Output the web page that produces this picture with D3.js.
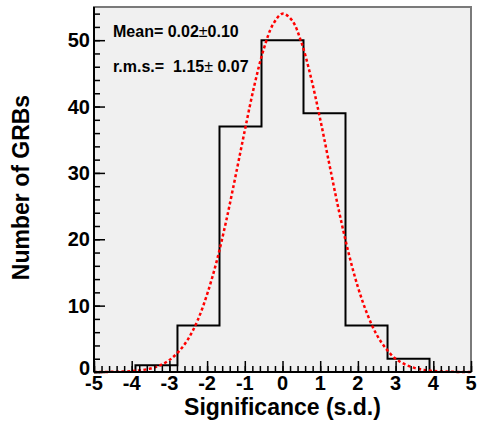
<!DOCTYPE html>
<html>
<head>
<meta charset="utf-8">
<script src="https://cdn.jsdelivr.net/npm/d3@7"></script>
<style>
  body { margin: 0; background: #fff; }
  text { font-family: "Liberation Sans", Arial, sans-serif; font-weight: bold; }
</style>
</head>
<body>
<div id="chart"></div>
<script>
// histogram of GRB significances
const binEdges = [-3.9, -2.786, -1.671, -0.557, 0.557, 1.671, 2.786, 3.9];
const counts = [1, 7, 37, 50, 39, 7, 2];

// gaussian fit curve
const fitX = [-5, -4.5, -4, -3.75, -3.5, -3.25, -3, -2.75, -2.5, -2.25, -2, -1.75, -1.5, -1.25, -1, -0.75, -0.5, -0.25,
              0, 0.25, 0.5, 0.75, 1, 1.25, 1.5, 1.75, 2, 2.25, 2.5, 2.75, 3, 3.25, 3.5, 3.75, 4, 4.5, 5];
const fitY = [0, 0.03, 0.13, 0.27, 0.53, 1.0, 1.8, 3.1, 5.0, 7.8, 11.7, 16.6, 22.6, 29.4, 36.4, 43.1, 48.6, 52.4,
              54.0, 53.0, 49.7, 44.5, 38.1, 31.1, 24.2, 18.0, 12.8, 8.7, 5.6, 3.5, 2.0, 1.15, 0.62, 0.32, 0.15, 0.03, 0];

const xTicks = [-5, -4, -3, -2, -1, 0, 1, 2, 3, 4, 5];
const yTicks = [0, 10, 20, 30, 40, 50];
const statLines = [["Mean= 0.02", "\u00b1", "0.10"], ["r.m.s.=  1.15", "\u00b1", " 0.07"]];

const W = 478, H = 423;
const margin = { top: 7, right: 7, bottom: 51, left: 94 };
const width = W - margin.left - margin.right,
      height = H - margin.top - margin.bottom;

const svg = d3.select("#chart").append("svg")
    .attr("width", W).attr("height", H);

const g = svg.append("g")
    .attr("transform", "translate(" + margin.left + "," + margin.top + ")");

const x = d3.scaleLinear().domain([-5, 5]).range([0, width]);
const y = d3.scaleLinear().domain([0, 55]).range([height, 0]);

// frame
g.append("rect")
    .attr("width", width).attr("height", height)
    .attr("fill", "#f0f0f0")
    .attr("stroke", "#7a7a7a")
    .attr("stroke-width", 2);

// histogram outline
const pts = [[binEdges[0], 0]];
counts.forEach((c, i) => {
    pts.push([binEdges[i], c]);
    pts.push([binEdges[i + 1], c]);
});
pts.push([binEdges[binEdges.length - 1], 0]);

g.append("path")
    .datum(pts)
    .attr("fill", "none")
    .attr("stroke", "#000")
    .attr("stroke-width", 2)
    .attr("d", d3.line().x(d => x(d[0])).y(d => y(d[1])));

// fit
const fit = fitX.map((v, i) => [v, fitY[i]]);
g.append("path")
    .datum(fit)
    .attr("fill", "none")
    .attr("stroke", "#ff0000")
    .attr("stroke-width", 2.5)
    .attr("stroke-dasharray", "3,2.5")
    .attr("d", d3.line().curve(d3.curveCatmullRom).x(d => x(d[0])).y(d => y(d[1])));

// x axis, ticks drawn inside the frame
const xMinor = g.append("g").attr("transform", "translate(0," + height + ")")
    .call(d3.axisTop(x).tickValues(d3.range(-50, 51, 2).map(v => v / 10)).tickSize(6).tickFormat(""));
const xMajor = g.append("g").attr("transform", "translate(0," + height + ")")
    .call(d3.axisTop(x).tickValues(xTicks).tickSize(11).tickFormat(""));
g.append("g").attr("transform", "translate(0," + height + ")")
    .selectAll("text")
    .data(xTicks).enter().append("text")
    .attr("x", d => x(d)).attr("y", 18)
    .attr("text-anchor", "middle")
    .attr("font-size", "20px")
    .attr("fill", "#000")
    .text(d => d);

// y axis
const yMinor = g.append("g")
    .call(d3.axisRight(y).tickValues(d3.range(0, 55, 2)).tickSize(6).tickFormat(""));
const yMajor = g.append("g")
    .call(d3.axisRight(y).tickValues(yTicks).tickSize(11).tickFormat(""));
g.append("g")
    .selectAll("text")
    .data(yTicks).enter().append("text")
    .attr("x", -4).attr("y", d => Math.min(y(d) + 7, height + 3))
    .attr("text-anchor", "end")
    .attr("font-size", "20px")
    .attr("fill", "#000")
    .text(d => d);

[xMinor, xMajor, yMinor, yMajor].forEach(a => {
    a.selectAll("line").attr("stroke", "#000").attr("stroke-width", 1.5);
    a.select(".domain").remove();
});

// axis lines
g.append("line").attr("x1", 0).attr("x2", width).attr("y1", height).attr("y2", height)
    .attr("stroke", "#000").attr("stroke-width", 2);
g.append("line").attr("x1", 0).attr("x2", 0).attr("y1", 0).attr("y2", height)
    .attr("stroke", "#000").attr("stroke-width", 2);

// titles
svg.append("text")
    .attr("x", margin.left + width / 2).attr("y", 415)
    .attr("text-anchor", "middle")
    .attr("font-size", "23px")
    .text("Significance (s.d.)");

svg.append("text")
    .attr("transform", "translate(28.5,187.5) rotate(-90)")
    .attr("text-anchor", "middle")
    .attr("font-size", "23px")
    .text("Number of GRBs");

// fit stats
statLines.forEach((parts, i) => {
    const t = svg.append("text")
        .attr("x", 113).attr("y", 37 + i * 35)
        .attr("font-size", "16px")
        .style("white-space", "pre");
    t.append("tspan").text(parts[0]);
    t.append("tspan").attr("font-weight", "normal").text(parts[1]);
    t.append("tspan").text(parts[2]);
});
</script>
</body>
</html>
